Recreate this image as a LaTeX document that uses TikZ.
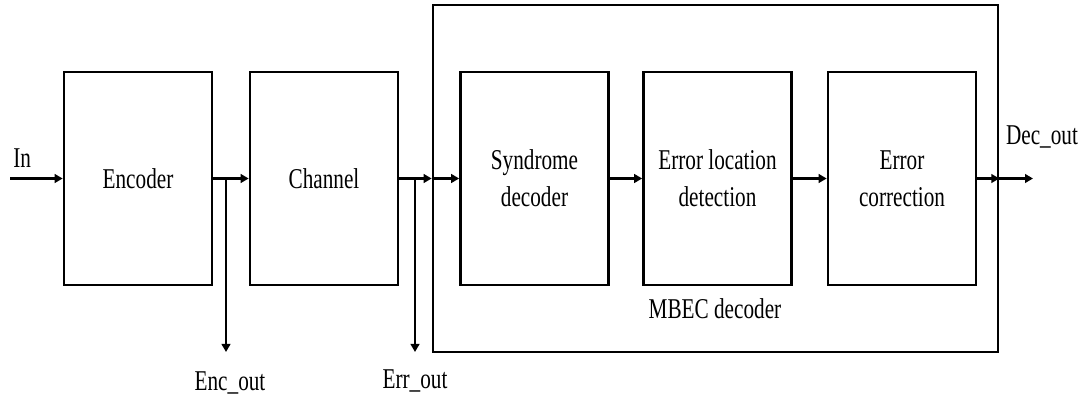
\documentclass[tikz,border=0pt]{standalone}
\usepackage{fontspec}
\setmainfont[FakeStretch=0.74]{Liberation Serif}
\usetikzlibrary{arrows.meta}

\begin{document}
\begin{tikzpicture}[x=0.75pt,y=-0.75pt,
  font=\fontsize{21.5}{27.75}\selectfont,
  blk/.style={draw,line width=2pt,minimum width=111pt,minimum height=159.75pt,inner sep=0pt,align=center},
  arr/.style={line width=2pt,-{Triangle[length=6pt,width=6.5pt]}},
  lbl/.style={anchor=base,inner sep=0pt}]
%set diagram frame 1087 x 398
\useasboundingbox (0,0) rectangle (1087,398);

% Outer box
\node[draw,line width=2pt,minimum width=423.75pt,minimum height=260.25pt,inner sep=0pt] (mbec) at (715.5,178.5) {};
% Blocks
\node[blk] (enc) at (138,178.5) {Encoder};
\node[blk] (chan) at (324,178.5) {Channel};
\node[blk] (synd) at (534.5,178.5) {Syndrome\\decoder};
\node[blk] (eloc) at (717.5,178.5) {Error location\\detection};
\node[blk] (ecor) at (902,178.5) {Error\\correction};

% Coordinates
\coordinate (in) at (10,178.5);
\coordinate (encend) at (226,352);
\coordinate (errend) at (415,352);
\coordinate (decend) at (1033,178.5);

% Arrows
\draw[arr] (in) -- (enc.west);
\draw[arr] (enc.east) -- (chan.west);
\draw[arr] (encend |- enc.east) -- (encend);
\draw[arr] (chan.east) -- (chan.east -| mbec.west);
\draw[arr] (chan.east -| mbec.west) -- (synd.west);
\draw[arr] (errend |- chan.east) -- (errend);
\draw[arr] (synd.east) -- (eloc.west);
\draw[arr] (eloc.east) -- (ecor.west);
\draw[arr] (ecor.east) -- (ecor.east -| mbec.east);
\draw[arr] (ecor.east -| mbec.east) -- (decend);

% Text Node
\node[lbl,anchor=base west] (inlbl) at (13,168) {In};
\node[lbl] (enclbl) at (230,390) {Enc\_out};
\node[lbl] (errlbl) at (415,388) {Err\_out};
\node[lbl] (declbl) at (1042,145) {Dec\_out};
\node[lbl] (mbeclbl) at (715,319) {MBEC decoder};

\end{tikzpicture}
\end{document}
